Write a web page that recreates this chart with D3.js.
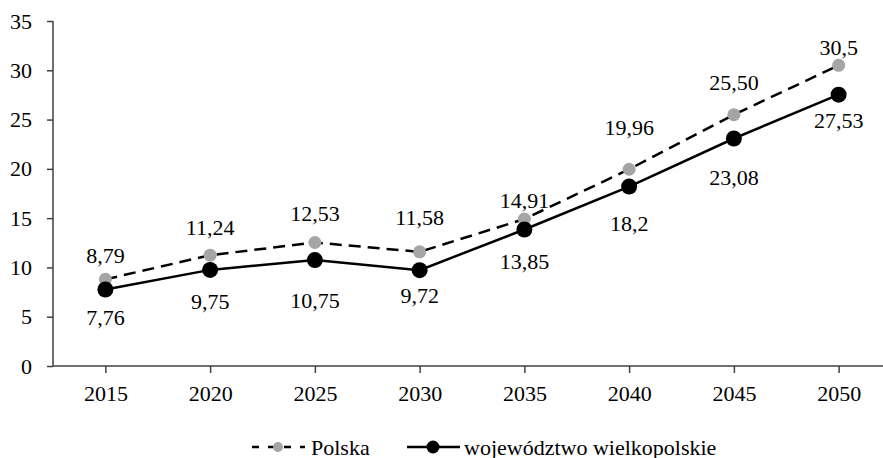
<!DOCTYPE html>
<html>
<head>
<meta charset="utf-8">
<script src="https://cdn.jsdelivr.net/npm/d3@7"></script>
<style>
  body { margin: 0; background: #fff; }
  text { font-family: "Liberation Serif", "DejaVu Serif", serif; fill: #000; }
</style>
</head>
<body>
<div id="chart"></div>
<script>
// Data
const years = ["2015", "2020", "2025", "2030", "2035", "2040", "2045", "2050"];
const polska = [8.79, 11.24, 12.53, 11.58, 14.91, 19.96, 25.50, 30.5];
const polskaLabels = ["8,79", "11,24", "12,53", "11,58", "14,91", "19,96", "25,50", "30,5"];
const wielkopolskie = [7.76, 9.75, 10.75, 9.72, 13.85, 18.2, 23.08, 27.53];
const wielkopolskieLabels = ["7,76", "9,75", "10,75", "9,72", "13,85", "18,2", "23,08", "27,53"];
const yTicks = [0, 5, 10, 15, 20, 25, 30, 35];

// label offsets (px from the point, vertical)
const polskaDy = [-24, -28, -29, -34, -19, -42, -32, -18];
const wielkopolskieDy = [28, 32, 40, 25, 32, 37, 39, 26];

const width = 883, height = 458;
const margin = { top: 21, left: 53, bottom: 92 };
const plotBottom = height - margin.bottom; // 366
const fontSize = "22px";

const svg = d3.select("#chart")
    .append("svg")
    .attr("width", width)
    .attr("height", height);

// Scales
const xScale = d3.scalePoint()
    .domain(years)
    .range([margin.left, 891])
    .padding(0.5);

const yScale = d3.scaleLinear()
    .domain([0, 35])
    .range([plotBottom, margin.top]);

// Y axis
const yAxis = svg.append("g")
    .attr("transform", `translate(${margin.left},0)`)
    .call(d3.axisLeft(yScale).tickValues(yTicks).tickSize(6).tickPadding(15));
yAxis.select(".domain").attr("stroke", "#404040").attr("stroke-width", 1.5)
    .attr("d", `M0,${yScale(35)}V${plotBottom}`);
yAxis.selectAll(".tick line").attr("stroke", "#404040").attr("stroke-width", 1.5);
yAxis.selectAll(".tick text").style("font-size", fontSize);

// X axis
const xAxis = svg.append("g")
    .attr("transform", `translate(0,${plotBottom})`)
    .call(d3.axisBottom(xScale).tickSize(7).tickPadding(12));
xAxis.select(".domain").attr("stroke", "#404040").attr("stroke-width", 1.5)
    .attr("d", `M${margin.left},0H${width}`);
xAxis.selectAll(".tick line").attr("stroke", "#404040").attr("stroke-width", 1.5);
xAxis.selectAll(".tick text").style("font-size", fontSize);

// Lines
const line = d3.line()
    .x((d, i) => xScale(years[i]))
    .y(d => yScale(d));

svg.append("path")
    .datum(polska)
    .attr("fill", "none")
    .attr("stroke", "#000")
    .attr("stroke-width", 2.5)
    .attr("stroke-dasharray", "12,7")
    .attr("d", line);

svg.append("path")
    .datum(wielkopolskie)
    .attr("fill", "none")
    .attr("stroke", "#000")
    .attr("stroke-width", 2.5)
    .attr("d", line);

// Markers
svg.selectAll(".dot-pl")
    .data(polska)
    .join("circle")
    .attr("cx", (d, i) => xScale(years[i]))
    .attr("cy", d => yScale(d))
    .attr("r", 6.5)
    .attr("fill", "#a5a5a5");

svg.selectAll(".dot-wk")
    .data(wielkopolskie)
    .join("circle")
    .attr("cx", (d, i) => xScale(years[i]))
    .attr("cy", d => yScale(d))
    .attr("r", 8)
    .attr("fill", "#000");

// Data labels
svg.selectAll(".lab-pl")
    .data(polska)
    .join("text")
    .attr("x", (d, i) => xScale(years[i]))
    .attr("y", (d, i) => yScale(d) + polskaDy[i])
    .attr("text-anchor", "middle")
    .attr("dominant-baseline", "central")
    .style("font-size", fontSize)
    .text((d, i) => polskaLabels[i]);

svg.selectAll(".lab-wk")
    .data(wielkopolskie)
    .join("text")
    .attr("x", (d, i) => xScale(years[i]))
    .attr("y", (d, i) => yScale(d) + wielkopolskieDy[i])
    .attr("text-anchor", "middle")
    .attr("dominant-baseline", "central")
    .style("font-size", fontSize)
    .text((d, i) => wielkopolskieLabels[i]);

// Legend
const legendY = 447;
const lg1 = svg.append("g");
lg1.append("line")
    .attr("x1", 252).attr("x2", 305)
    .attr("y1", legendY).attr("y2", legendY)
    .attr("stroke", "#000").attr("stroke-width", 2.5)
    .attr("stroke-dasharray", "7,9");
lg1.append("circle").attr("cx", 278).attr("cy", legendY).attr("r", 5).attr("fill", "#a5a5a5");
lg1.append("text").attr("x", 311).attr("y", legendY)
    .attr("dominant-baseline", "central").style("font-size", fontSize).text("Polska");

const lg2 = svg.append("g");
lg2.append("line")
    .attr("x1", 407).attr("x2", 460)
    .attr("y1", legendY).attr("y2", legendY)
    .attr("stroke", "#000").attr("stroke-width", 2.5);
lg2.append("circle").attr("cx", 433).attr("cy", legendY).attr("r", 6.5).attr("fill", "#000");
lg2.append("text").attr("x", 464).attr("y", legendY)
    .attr("dominant-baseline", "central").style("font-size", fontSize).text("województwo wielkopolskie");
</script>
</body>
</html>
